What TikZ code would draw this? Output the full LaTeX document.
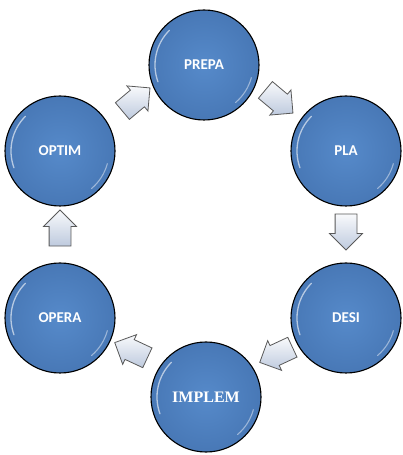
\documentclass[tikz,border=0pt]{standalone}
\usepackage{fontspec}
\usepackage{tikz}
\usetikzlibrary{shapes.arrows, calc}
\newfontfamily\carlito{Carlito}
\newfontfamily\tempi{Liberation Serif}
\definecolor{blu}{RGB}{72,120,182}
\definecolor{bluchiaro}{RGB}{86,138,202}
\definecolor{grigiofreccia}{RGB}{190,202,222}

\begin{document}
\begin{tikzpicture}[x=1pt, y=1pt,
    cerchio/.style = {circle, draw=black, line width=1.1pt, minimum size=110pt,
        inner color=bluchiaro, outer color=blu, text=white,
        font=\carlito\bfseries\fontsize{15}{17}\selectfont},
    freccia/.style = {single arrow, draw=black!65, line width=0.8pt,
        minimum height=36pt, single arrow head extend=5.5pt,
        inner xsep=0pt, inner ysep=10.5pt,
        top color=white!90!grigiofreccia, bottom color=grigiofreccia}]
    % Parametri
    \pgfmathsetmacro{\rl}{49}
    \useasboundingbox (0,0) rectangle (403,455);
    % Cerchi
    \node[cerchio] (prepa) at (204,390) {PREPA};
    \node[cerchio] (pla) at (346,304) {PLA};
    \node[cerchio] (desi) at (346,137) {DESI};
    \node[cerchio, font=\tempi\bfseries\fontsize{16}{18}\selectfont] (implem) at (206,58) {IMPLEM};
    \node[cerchio] (opera) at (60,137) {OPERA};
    \node[cerchio] (optim) at (60,304) {OPTIM};
    % Riflessi
    \foreach \c in {prepa,pla,desi,implem,opera,optim}{
        \draw[white, opacity=0.6, line width=1.3pt, line cap=round]
            ([shift={(135:\rl)}]\c.center) arc (135:200:\rl);
        \draw[white, opacity=0.45, line width=1.1pt, line cap=round]
            ([shift={(-15:\rl)}]\c.center) arc (-15:-50:\rl);
    }
    % Frecce
    \node[freccia, rotate=40] (f1) at ($(optim)!0.5!(prepa)+(0,5)$) {};
    \node[freccia, rotate=-40] (f2) at ($(prepa)!0.5!(pla)+(0,10)$) {};
    \node[freccia, rotate=-90] (f3) at ($(pla)!0.5!(desi)+(0,8)$) {};
    \node[freccia, rotate=205] (f4) at ($(desi)!0.5!(implem)+(5,5)$) {};
    \node[freccia, rotate=155] (f5) at ($(implem)!0.5!(opera)+(3,5)$) {};
    \node[freccia, rotate=90] (f6) at ($(opera)!0.5!(optim)+(0,1)$) {};
\end{tikzpicture}
\end{document}
